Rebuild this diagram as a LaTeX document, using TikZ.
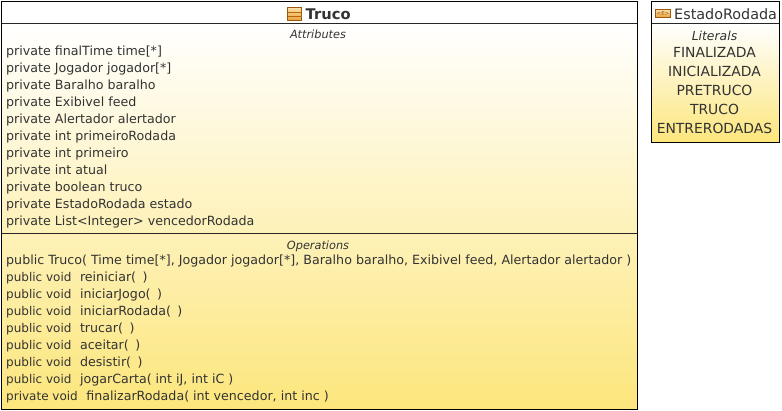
\documentclass[tikz,border=0pt]{standalone}
\usepackage{fontspec}
\setmainfont{DejaVu Sans}
\definecolor{txt}{HTML}{333333}
\definecolor{fillEnd}{HTML}{FCE67C}
\definecolor{fillStart}{HTML}{FFFFFF}
\definecolor{iconTop}{HTML}{FBDFA8}
\definecolor{iconBot}{HTML}{E9A238}
\definecolor{iconLine}{HTML}{99590F}
\newcommand{\pfx}[1]{{\fontsize{12}{14}\selectfont #1}\hspace{8.5pt}}
\newcommand{\gq}{\hspace{6.5pt}}
\tikzset{
  x=1pt,y=-1pt,
  boxline/.style={draw=black,line width=1pt},
  sepline/.style={draw=black!85,line width=0.9pt},
  member/.style={anchor=base west,inner sep=0pt,text=txt,font=\fontsize{12.65}{14}\selectfont},
  sectitle/.style={anchor=base,inner sep=0pt,text=txt,font=\fontsize{11.3}{13}\selectfont\itshape},
  littitle/.style={anchor=base,inner sep=0pt,text=txt,font=\fontsize{12.4}{14}\selectfont\itshape},
  literal/.style={anchor=base,inner sep=0pt,text=txt,font=\fontsize{13.9}{16}\selectfont},
}
\begin{document}
\begin{tikzpicture}
\useasboundingbox (0,0) rectangle (782,410);
% Truco box
\shade[top color=fillStart,bottom color=fillEnd] (1,23) rectangle (637,409);
\fill[white] (1,1) rectangle (637,23);
\draw[sepline] (1,23) -- (637,23);
\draw[sepline] (1,233) -- (637,233);
\draw[boxline] (1,1) rectangle (637,409);
% class icon
\shade[top color=iconTop,bottom color=iconBot] (287.5,7.5) rectangle (301.5,20.5);
\draw[draw=iconLine,line width=0.8pt] (287.5,7.5) rectangle (301.5,20.5);
\draw[draw=iconLine!70!orange,line width=0.5pt] (287.5,12) -- (301.5,12) (287.5,16) -- (301.5,16);
\node[anchor=base west,inner sep=0pt,text=txt,font=\fontsize{14.7}{16}\selectfont\bfseries] (trucoTitle) at (305.5,19) {Truco};
\node[sectitle] (attrTitle) at (318,38.5) {Attributes};
\node[member] (a1) at (6,55) {private finalTime time[*]};
\node[member] (a2) at (6,72) {private Jogador jogador[*]};
\node[member] (a3) at (6,89) {private Baralho baralho};
\node[member] (a4) at (6,106) {private Exibivel feed};
\node[member] (a5) at (6,123) {private Alertador alertador};
\node[member] (a6) at (6,140) {private int primeiroRodada};
\node[member] (a7) at (6,157) {private int primeiro};
\node[member] (a8) at (6,174) {private int atual};
\node[member] (a9) at (6,191) {private boolean truco};
\node[member] (a10) at (6,208) {private EstadoRodada estado};
\node[member] (a11) at (6,225) {private List<Integer> vencedorRodada};
\node[sectitle] (opTitle) at (318,249) {Operations};
\node[member] (o1) at (6,264.5) {public Truco( Time time[*], Jogador jogador[*], Baralho baralho, Exibivel feed, Alertador alertador )};
\node[member] (o2) at (6,281.5) {\pfx{public void}reiniciar(\gq)};
\node[member] (o3) at (6,298.5) {\pfx{public void}iniciarJogo(\gq)};
\node[member] (o4) at (6,315.5) {\pfx{public void}iniciarRodada(\gq)};
\node[member] (o5) at (6,332.5) {\pfx{public void}trucar(\gq)};
\node[member] (o6) at (6,349.5) {\pfx{public void}aceitar(\gq)};
\node[member] (o7) at (6,366.5) {\pfx{public void}desistir(\gq)};
\node[member] (o8) at (6,383.5) {\pfx{public void}jogarCarta( int iJ, int iC )};
\node[member] (o9) at (6,400.5) {\pfx{private void}finalizarRodada( int vencedor, int inc )};
% EstadoRodada box
\shade[top color=fillStart,bottom color=fillEnd] (651,23) rectangle (779,142);
\fill[white] (651,1) rectangle (779,23);
\draw[sepline] (651,23) -- (779,23);
\draw[boxline] (651,1) rectangle (779,142);
% enum icon
\shade[top color=iconTop,bottom color=iconBot] (655.5,9.5) rectangle (670.5,17.5);
\draw[draw=iconLine,line width=0.7pt] (655.5,9.5) rectangle (670.5,17.5);
\node[inner sep=0pt,text=iconLine,font=\fontsize{5.5}{6}\selectfont] (enumMark) at (663,13.5) {<E>};
\node[anchor=base west,inner sep=0pt,text=txt,font=\fontsize{14.35}{16}\selectfont] (estTitle) at (674,19) {EstadoRodada};
\node[littitle] (litTitle) at (714.5,40) {Literals};
\node[literal] (l1) at (714.5,57) {FINALIZADA};
\node[literal] (l2) at (714.5,76) {INICIALIZADA};
\node[literal] (l3) at (714.5,95) {PRETRUCO};
\node[literal] (l4) at (714.5,114) {TRUCO};
\node[literal] (l5) at (714.5,133) {ENTRERODADAS};
\end{tikzpicture}
\end{document}
